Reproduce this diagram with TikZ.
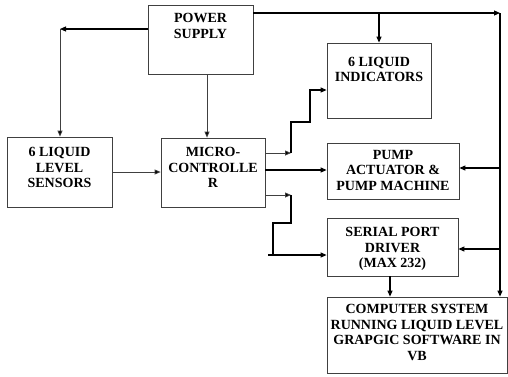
\documentclass[tikz,border=0pt]{standalone}
\usepackage{fontspec}
\setmainfont{Liberation Serif}
\usetikzlibrary{arrows.meta,calc,positioning}
\tikzset{
  blk/.style={draw=black!75, line width=0.8pt, inner sep=0pt},
  txt/.style={anchor=north, inner sep=0pt, align=center, font=\bfseries\fontsize{14}{15.5}\selectfont},
  arr/.style={line width=1.1pt, -{Triangle[length=6pt,width=5pt]}},
  arrthin/.style={line width=0.8pt, black!75, -{Triangle[length=6pt,width=5pt,fill=black]}},
  ln/.style={line width=1.1pt}
}

\begin{document}
\begin{tikzpicture}[x=1pt,y=-1pt]
        \useasboundingbox (0,0) rectangle (508,376);
        % Draw the blocks
        \node[blk, minimum width=105pt, minimum height=69pt] (ps) at (200.5,39.5) {};
        \node[blk, minimum width=105pt, minimum height=70pt] (sens) at (59.5,172) {};
        \node[blk, minimum width=104pt, minimum height=69pt] (mcu) at (213,172.5) {};
        \node[blk, minimum width=104pt, minimum height=75pt] (ind) at (379,80.5) {};
        \node[blk, minimum width=132pt, minimum height=56pt] (pump) at (393,171) {};
        \node[blk, minimum width=131pt, minimum height=58pt] (ser) at (392.5,247) {};
        \node[blk, minimum width=180pt, minimum height=76pt] (pc) at (417,335) {};
        % Block texts
        \node[txt] (psT) at ([yshift=-8.5pt]ps.north) {POWER\\SUPPLY};
        \node[txt] (sensT) at ([yshift=-10.5pt]sens.north) {6 LIQUID\\LEVEL\\SENSORS};
        \node[txt] (mcuT) at ([yshift=-9.5pt]mcu.north) {MICRO-\\CONTROLLE\\R};
        \node[txt] (indT) at ([yshift=-14pt]ind.north) {6 LIQUID\\INDICATORS};
        \node[txt] (pumpT) at ([yshift=-7.5pt]pump.north) {PUMP\\ACTUATOR \&\\PUMP MACHINE};
        \node[txt] (serT) at ([yshift=-9.5pt]ser.north) {SERIAL PORT\\DRIVER\\(MAX 232)};
        \node[txt] (pcT) at ([yshift=-7.5pt]pc.north) {COMPUTER SYSTEM\\RUNNING LIQUID LEVEL\\GRAPGIC SOFTWARE IN\\VB};
        % Define coordinates
        \coordinate (c1) at (60,29);
        \coordinate (c2) at (500,13);
        \coordinate (s1) at (291,153);
        \coordinate (s2) at (291,195);
        \coordinate (s3) at (268,255);
        % Power lines
        \draw[arr] (ps.west |- c1) -- (c1);
        \draw[arrthin] (c1) -- (sens.north -| c1);
        \draw[arrthin] ([xshift=6.5pt]ps.south) -- ([xshift=-6pt]mcu.north);
        \draw[arr] (ps.east |- c2) -- (c2);
        \draw[ln] (c2) -- ++(0,5);
        \draw[arr] (c2) -- (c2 |- pc.north);
        \draw[arr] (ind.north |- c2) -- (ind.north);
        \draw[arr] (c2 |- 0,168) -- (pump.east |- 0,168);
        \draw[arr] (c2 |- 0,249) -- (ser.east |- 0,249);
        % Sensors to microcontroller
        \draw[arrthin] (sens.east |- 0,172) -- (mcu.west |- 0,172);
        % Microcontroller outputs
        \draw[arrthin] (mcu.east |- s1) -- (s1);
        \draw[arr] (s1) -- ++(0,-31) -- ++(19,0) |- (ind.west |- 0,90);
        \draw[arr] (mcu.east |- 0,170) -- (pump.west |- 0,170);
        \draw[arrthin] (mcu.east |- s2) -- (s2);
        \draw[ln] (s2) -- ++(0,28) -| (273,255);
        \draw[arr] (s3) -- (ser.west |- s3);
        % Serial port to computer
        \draw[arr] (ser.south -| 390,0) -- (pc.north -| 390,0);
      \end{tikzpicture}
\end{document}
